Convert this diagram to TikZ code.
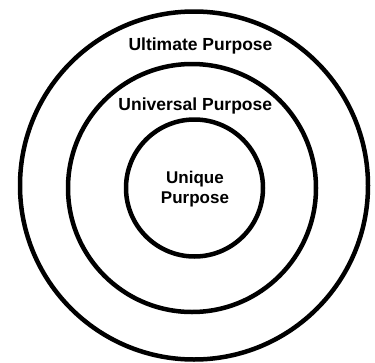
\documentclass[tikz,border=0pt]{standalone}
\usepackage{fontspec}
\setmainfont{Liberation Sans}
\usetikzlibrary{positioning}

\begin{document}
\begin{tikzpicture}
    [x=1pt, y=-1pt,
    ring/.style={circle, draw=black, line width=4.5pt, inner sep=0pt},
    caption/.style={font=\bfseries\fontsize{17.5}{20}\selectfont, inner sep=0pt, align=center}]
    \fill[white] (0,0) rectangle (375,362);
    \useasboundingbox (0,0) rectangle (375,362);
        %% Rings
    \node[ring, minimum size=348pt] (outer) at (194,185.5) {};
    \node[ring, minimum size=248pt] (middle) at (192,188) {};
    \node[ring, minimum size=137pt] (inner) at (194.5,188) {};

        %% Labels
    \node[caption, anchor=base] (ult) at (200.5,50) {Ultimate Purpose};
    \node[caption, anchor=base] (uni) at (195.3,110) {Universal Purpose};
    \node[caption, font=\bfseries\fontsize{17}{20}\selectfont] (unq) at (195,189.5) {Unique\\Purpose};
\end{tikzpicture}
\end{document}
